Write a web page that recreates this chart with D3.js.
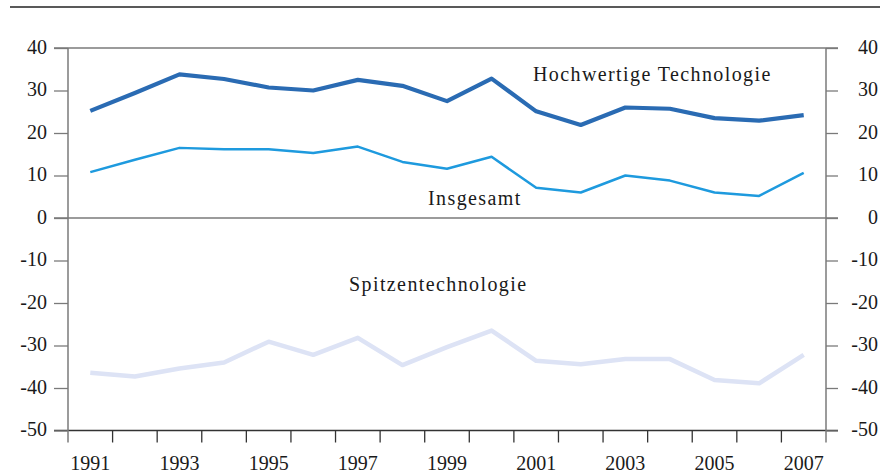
<!DOCTYPE html>
<html>
<head>
<meta charset="utf-8">
<script src="https://cdn.jsdelivr.net/npm/d3@7"></script>
<style>
  html, body { margin: 0; padding: 0; background: #fff; }
  svg text { font-family: "Liberation Serif", "Times New Roman", serif; fill: #1a1a1a; }
</style>
</head>
<body>
<div id="chart"></div>
<script>
// years on the x axis (one band per year)
const years = d3.range(1991, 2008);
const yearLabels = [1991, 1993, 1995, 1997, 1999, 2001, 2003, 2005, 2007];
const yTicks = [40, 30, 20, 10, 0, -10, -20, -30, -40, -50];

// series values
const hochwertig = [25.2, 29.4, 33.8, 32.7, 30.7, 30.0, 32.5, 31.1, 27.5, 32.8, 25.1, 21.9, 26.0, 25.7, 23.5, 22.9, 24.2];
const insgesamt  = [10.8, 13.7, 16.5, 16.2, 16.2, 15.3, 16.8, 13.2, 11.6, 14.4, 7.1, 6.0, 10.0, 8.8, 6.0, 5.2, 10.6];
const spitze     = [-36.4, -37.3, -35.4, -34.0, -29.1, -32.2, -28.2, -34.6, -30.4, -26.5, -33.6, -34.4, -33.2, -33.2, -38.1, -38.9, -32.2];

const width = 880, height = 474;
const mLeft = 68, mRight = 826, mTop = 48, mBottom = 430.5;

const svg = d3.select("#chart")
  .append("svg")
    .attr("width", width)
    .attr("height", height);

const x = d3.scaleBand().domain(years).range([mLeft, mRight]).padding(0);
const y = d3.scaleLinear().domain([-50, 40]).range([mBottom, mTop]);
const cx = d => x(d) + x.bandwidth() / 2;

// rule on top of the figure
svg.append("line")
  .attr("x1", 10).attr("x2", 880)
  .attr("y1", 7).attr("y2", 7)
  .style("stroke", "#222").style("stroke-width", 1.3);

// horizontal lines at 40 and 0, bottom baseline
[40, 0].forEach(v => {
  svg.append("line")
    .attr("x1", mLeft - 14).attr("x2", mRight + 12)
    .attr("y1", y(v)).attr("y2", y(v))
    .style("stroke", "#7a7a7a").style("stroke-width", 1.3);
});
svg.append("line")
  .attr("x1", mLeft - 14).attr("x2", mRight + 12)
  .attr("y1", y(-50)).attr("y2", y(-50))
  .style("stroke", "#333").style("stroke-width", 1.3);

// left axis
const yLeft = d3.axisLeft(y).tickValues(yTicks).tickSize(14).tickPadding(7)
  .tickFormat(d => String(d));
const gl = svg.append("g").attr("transform", `translate(${mLeft},0)`).call(yLeft);
// right axis
const yRight = d3.axisRight(y).tickValues(yTicks).tickSize(12).tickPadding(0)
  .tickFormat(d => String(d));
const gr = svg.append("g").attr("transform", `translate(${mRight},0)`).call(yRight);

gl.select(".domain").remove();
gr.select(".domain").remove();
[gl, gr].forEach(g => {
  g.selectAll(".tick line").style("stroke", "#7a7a7a").style("stroke-width", 1.3);
  g.selectAll(".tick text")
    .style("font-size", "20px")
    .attr("dy", "0.25em");
});
gr.selectAll(".tick text").attr("text-anchor", "end").attr("x", 878 - mRight);

// vertical axis lines
[mLeft, mRight].forEach(xx => {
  svg.append("line")
    .attr("x1", xx).attr("x2", xx)
    .attr("y1", mTop).attr("y2", mBottom + 12)
    .style("stroke", "#7a7a7a").style("stroke-width", 1.5);
});

// x ticks at year boundaries
svg.append("g").selectAll("line")
  .data(years.slice(1))
  .enter()
  .append("line")
    .attr("x1", d => x(d)).attr("x2", d => x(d))
    .attr("y1", mBottom).attr("y2", mBottom + 12)
    .style("stroke", "#333").style("stroke-width", 1.3);

svg.append("g").selectAll("text")
  .data(yearLabels)
  .enter()
  .append("text")
    .attr("x", d => cx(d))
    .attr("y", 470)
    .attr("text-anchor", "middle")
    .style("font-size", "20px")
    .text(d => d);

// lines
const series = [
  {vals: spitze, color: "#dde3f5", w: 4.5},
  {vals: insgesamt, color: "#1e9ade", w: 2.5},
  {vals: hochwertig, color: "#2a6bb3", w: 4.2}
];
const line = d3.line().x((d, i) => cx(years[i])).y(d => y(d));
svg.selectAll("path.series")
  .data(series)
  .enter()
  .append("path")
    .attr("class", "series")
    .attr("d", d => line(d.vals))
    .style("fill", "none")
    .style("stroke", d => d.color)
    .style("stroke-width", d => d.w)
    .style("stroke-linejoin", "round");

// labels
const labels = [
  {text: "Hochwertige Technologie", x: 533, y: 81},
  {text: "Insgesamt", x: 428, y: 205},
  {text: "Spitzentechnologie", x: 349, y: 291}
];
svg.selectAll("text.lab")
  .data(labels)
  .enter()
  .append("text")
    .attr("class", "lab")
    .attr("x", d => d.x)
    .attr("y", d => d.y)
    .style("font-size", "20px")
    .style("letter-spacing", "1.4px")
    .text(d => d.text);
</script>
</body>
</html>
